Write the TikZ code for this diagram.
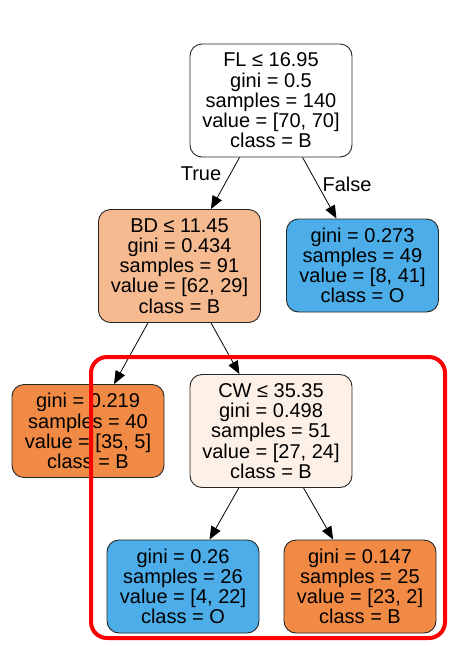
\documentclass[tikz,border=0pt]{standalone}
\usepackage{fontspec}
\setmainfont{Liberation Sans}
\usetikzlibrary{arrows.meta}
\definecolor{orleaf}{HTML}{F08A45}
\definecolor{orlight}{HTML}{F6BA91}
\definecolor{orpale}{HTML}{FDF0E7}
\definecolor{blleaf}{HTML}{4CADE9}
\begin{document}
\begin{tikzpicture}[x=1pt,y=-1pt,
  tn/.style={draw=black!85, rounded corners=12pt, align=center, inner sep=0pt,
    font=\fontsize{20}{20.2}\selectfont, line width=0.9pt},
  big/.style={tn, minimum width=162pt, minimum height=113pt},
  small/.style={tn, minimum width=152pt, minimum height=93pt},
  edge/.style={-{Triangle[length=13pt,width=10.5pt]}, line width=0.8pt},
  lab/.style={font=\fontsize{20}{20}\selectfont, inner sep=0pt},
  hilite/.style={draw=red, line width=4pt, rounded corners=16pt, inner sep=0pt}]
\useasboundingbox (0,0) rectangle (453,646);
\node[big, fill=white] (root) at (271,100.5) {FL ≤ 16.95\\gini = 0.5\\samples = 140\\value = [70, 70]\\class = B};
\node[big, fill=orlight] (bd) at (179.5,266) {BD ≤ 11.45\\gini = 0.434\\samples = 91\\value = [62, 29]\\class = B};
\node[small, fill=blleaf] (fr) at (362.5,265.5) {gini = 0.273\\samples = 49\\value = [8, 41]\\class = O};
\node[small, fill=orleaf] (l1) at (88,431) {gini = 0.219\\samples = 40\\value = [35, 5]\\class = B};
\node[big, fill=orpale] (cw) at (271,431) {CW ≤ 35.35\\gini = 0.498\\samples = 51\\value = [27, 24]\\class = B};
\node[small, fill=blleaf] (l2) at (183,586.5) {gini = 0.26\\samples = 26\\value = [4, 22]\\class = O};
\node[small, fill=orleaf] (l3) at (360,586.5) {gini = 0.147\\samples = 25\\value = [23, 2]\\class = B};
\draw[edge] (root) -- (bd);
\draw[edge] (root) -- (fr);
\draw[edge] (bd) -- (l1);
\draw[edge] (bd) -- (cw);
\draw[edge] (cw) -- (l2);
\draw[edge] (cw) -- (l3);
\node[lab] (t) at (201,174) {True};
\node[lab] (f) at (347,184) {False};
\node[hilite, minimum width=354pt, minimum height=281pt] (hl) at (268,497.5) {};
\end{tikzpicture}
\end{document}
